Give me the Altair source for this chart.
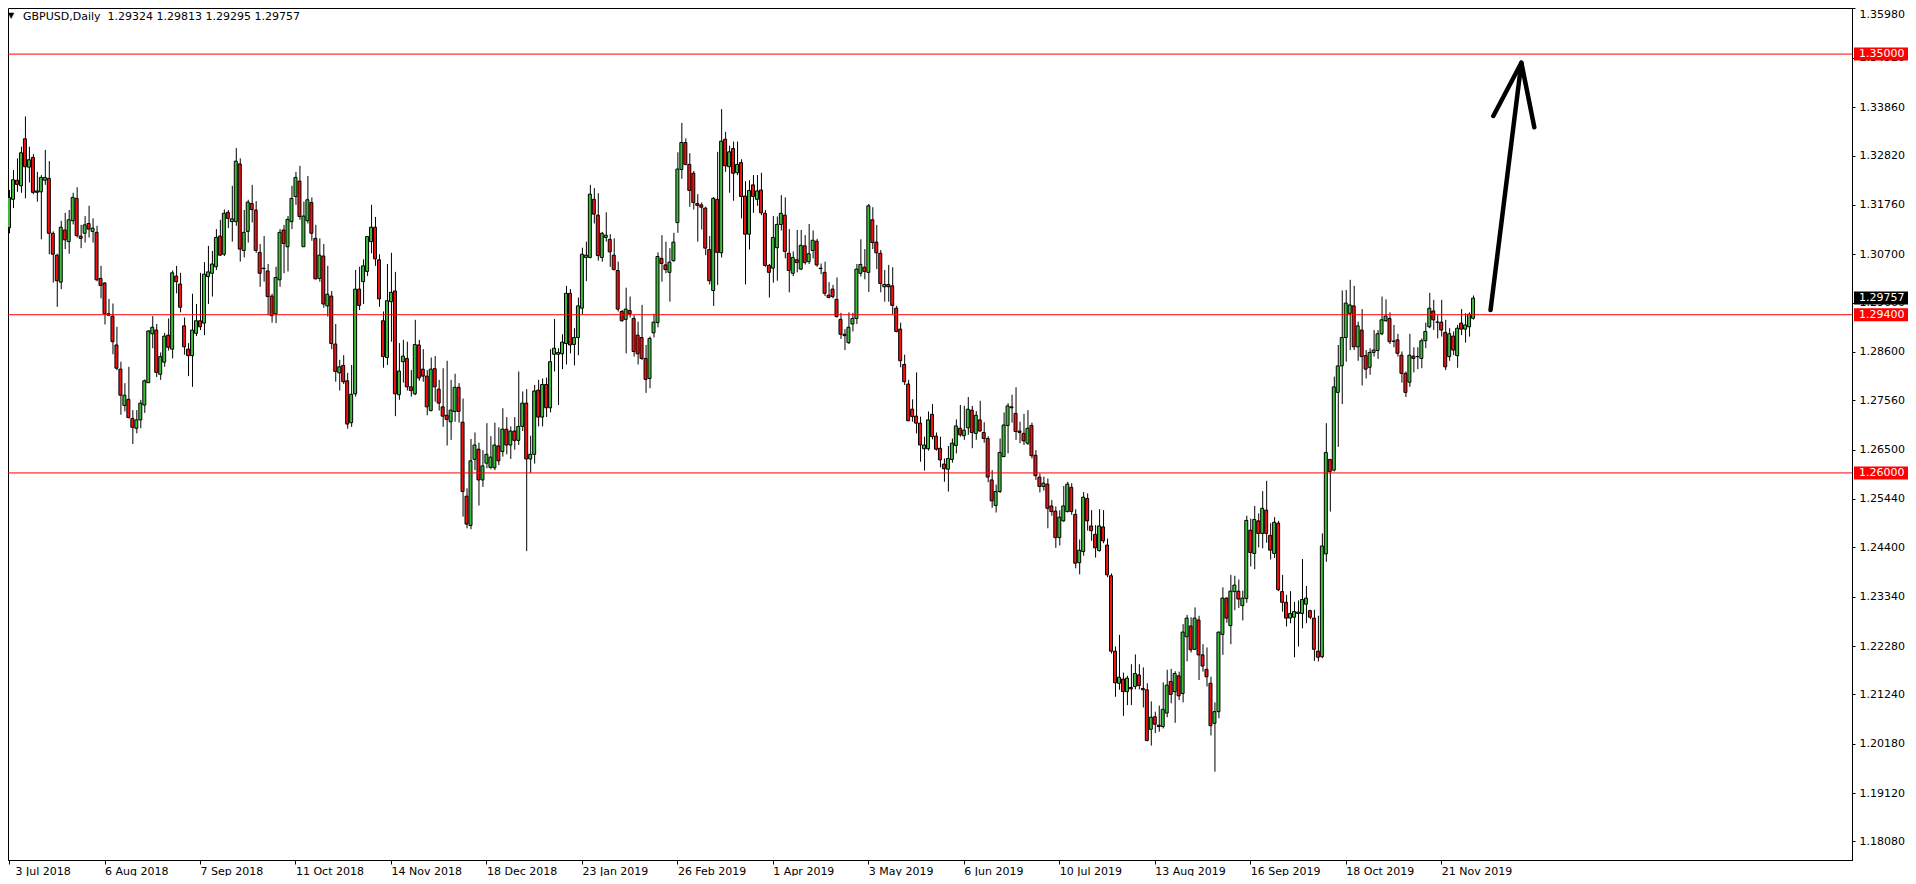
import altair as alt
import pandas as pd

# ---------------- data (GBPUSD daily, bar 0 = 3 Jul 2018) -------------
opens = [
    1.3127, 1.3188, 1.3229, 1.3217, 1.3318, 1.3257, 1.3278, 1.3206, 1.3204, 1.3229,
    1.3233, 1.3115, 1.3068, 1.3010, 1.3122, 1.3097, 1.3142, 1.3190, 1.3109, 1.3115,
    1.3136, 1.3119, 1.3117, 1.3018, 1.3008, 1.2942, 1.2937, 1.2875, 1.2823, 1.2745,
    1.2758, 1.2717, 1.2696, 1.2714, 1.2746, 1.2794, 1.2899, 1.2907, 1.2812, 1.2838,
    1.2896, 1.2866, 1.3023, 1.3006, 1.2916, 1.2866, 1.2852, 1.2900, 1.2927, 1.2922,
    1.3022, 1.3029, 1.3043, 1.3109, 1.3070, 1.3160, 1.3140, 1.3140, 1.3264, 1.3078,
    1.3119, 1.3179, 1.3165, 1.3074, 1.3040, 1.3034, 1.2980, 1.2942, 1.3015, 1.3122,
    1.3086, 1.3140, 1.3194, 1.3227, 1.3086, 1.3142, 1.3181, 1.3104, 1.3018, 1.3066,
    1.2959, 1.2980, 1.2877, 1.2815, 1.2831, 1.2798, 1.2708, 1.2770, 1.2995, 1.3011,
    1.3033, 1.3097, 1.3128, 1.3058, 1.2927, 1.2848, 1.2968, 1.2991, 1.2768, 1.2839,
    1.2846, 1.2785, 1.2770, 1.2875, 1.2823, 1.2808, 1.2734, 1.2824, 1.2780, 1.2742,
    1.2724, 1.2710, 1.2732, 1.2784, 1.2709, 1.2550, 1.2487, 1.2629, 1.2651, 1.2585,
    1.2621, 1.2612, 1.2611, 1.2658, 1.2646, 1.2694, 1.2660, 1.2690, 1.2670, 1.2700,
    1.2750, 1.2630, 1.2640, 1.2778, 1.2720, 1.2790, 1.2740, 1.2855, 1.2855, 1.2856,
    1.2878, 1.2986, 1.2876, 1.2891, 1.2954, 1.3063, 1.3063, 1.3188, 1.3154, 1.3063,
    1.3106, 1.3102, 1.3068, 1.3035, 1.2947, 1.2930, 1.2949, 1.2932, 1.2896, 1.2891,
    1.2846, 1.2803, 1.2901, 1.2923, 1.3061, 1.3047, 1.3031, 1.3056, 1.3138, 1.3252,
    1.3310, 1.3263, 1.3244, 1.3179, 1.3176, 1.3169, 1.3080, 1.2992, 1.3188, 1.3073,
    1.3317, 1.3258, 1.3297, 1.3245, 1.3267, 1.3195, 1.3113, 1.3219, 1.3188, 1.3208,
    1.3158, 1.3046, 1.3040, 1.3084, 1.3134, 1.3154, 1.3072, 1.3029, 1.3058, 1.3038,
    1.3088, 1.3054, 1.3078, 1.3098, 1.3040, 1.3031, 1.2982, 1.2995, 1.2973, 1.2930,
    1.2898, 1.2880, 1.2920, 1.2932, 1.3029, 1.3042, 1.3031, 1.3144, 1.3096, 1.3072,
    1.3000, 1.3005, 1.3002, 1.2954, 1.2909, 1.2833, 1.2791, 1.2737, 1.2722, 1.2707,
    1.2652, 1.2652, 1.2726, 1.2679, 1.2653, 1.2619, 1.2608, 1.2629, 1.2659, 1.2696,
    1.2680, 1.2697, 1.2735, 1.2685, 1.2714, 1.2687, 1.2674, 1.2585, 1.2530, 1.2560,
    1.2635, 1.2702, 1.2742, 1.2728, 1.2690, 1.2685, 1.2664, 1.2702, 1.2638, 1.2591,
    1.2571, 1.2576, 1.2529, 1.2518, 1.2461, 1.2497, 1.2517, 1.2569, 1.2511, 1.2407,
    1.2431, 1.2545, 1.2486, 1.2468, 1.2433, 1.2484, 1.2445, 1.2379, 1.2217, 1.2148,
    1.2157, 1.2130, 1.2139, 1.2141, 1.2166, 1.2137, 1.2134, 1.2049, 1.2076, 1.2058,
    1.2055, 1.2084, 1.2152, 1.2130, 1.2164, 1.2126, 1.2248, 1.2271, 1.2221, 1.2284,
    1.2209, 1.2178, 1.2148, 1.2062, 1.2087, 1.2253, 1.2331, 1.2272, 1.2345, 1.2346,
    1.2315, 1.2330, 1.2477, 1.2427, 1.2497, 1.2470, 1.2520, 1.2466, 1.2427, 1.2492,
    1.2345, 1.2322, 1.2288, 1.2290, 1.2298, 1.2298, 1.2318, 1.2304, 1.2288, 1.2217,
    1.2205, 1.2426, 1.2629, 1.2606, 1.2773, 1.2830, 1.2891, 1.2943, 1.2959, 1.2871,
    1.2907, 1.2852, 1.2827, 1.2859, 1.2863, 1.2899, 1.2927, 1.2932, 1.2883, 1.2886,
    1.2853, 1.2814, 1.2795, 1.2851, 1.2850, 1.2846, 1.2884, 1.2914, 1.2948, 1.2924,
    1.2924, 1.2902, 1.2850, 1.2894, 1.2852, 1.2922, 1.2909, 1.2914, 1.29324,
]
highs = [
    1.3208, 1.3251, 1.3276, 1.3301, 1.3366, 1.3301, 1.3285, 1.3247, 1.3240, 1.3294,
    1.3270, 1.3119, 1.3071, 1.3142, 1.3159, 1.3165, 1.3202, 1.3214, 1.3133, 1.3152,
    1.3174, 1.3147, 1.3131, 1.3045, 1.3010, 1.2974, 1.2964, 1.2914, 1.2839, 1.2793,
    1.2828, 1.2735, 1.2735, 1.2757, 1.2801, 1.2907, 1.2937, 1.2920, 1.2859, 1.2901,
    1.2932, 1.3035, 1.3045, 1.3030, 1.2934, 1.2879, 1.2985, 1.2963, 1.3030, 1.3053,
    1.3088, 1.3077, 1.3124, 1.3144, 1.3166, 1.3165, 1.3217, 1.3298, 1.3276, 1.3165,
    1.3187, 1.3219, 1.3184, 1.3092, 1.3109, 1.3049, 1.2985, 1.3043, 1.3124, 1.3133,
    1.3152, 1.3217, 1.3247, 1.3260, 1.3183, 1.3238, 1.3192, 1.3133, 1.3104, 1.3092,
    1.3045, 1.2991, 1.2920, 1.2843, 1.2853, 1.2815, 1.2832, 1.3036, 1.3043, 1.3059,
    1.3109, 1.3176, 1.3150, 1.3070, 1.2947, 1.3049, 1.3073, 1.3032, 1.2879, 1.2886,
    1.2882, 1.2821, 1.2929, 1.2886, 1.2866, 1.2821, 1.2848, 1.2851, 1.2800, 1.2825,
    1.2841, 1.2800, 1.2813, 1.2793, 1.2760, 1.2567, 1.2673, 1.2687, 1.2665, 1.2649,
    1.2707, 1.2679, 1.2708, 1.2698, 1.2739, 1.2720, 1.2700, 1.2720, 1.2818, 1.2775,
    1.2780, 1.2680, 1.2789, 1.2800, 1.2803, 1.2805, 1.2866, 1.2931, 1.2868, 1.2898,
    1.3002, 1.2995, 1.2911, 1.2977, 1.3084, 1.3097, 1.3219, 1.3212, 1.3201, 1.3118,
    1.3160, 1.3113, 1.3104, 1.3054, 1.2950, 1.2998, 1.2979, 1.2939, 1.2925, 1.2961,
    1.2875, 1.2893, 1.2942, 1.3074, 1.3111, 1.3097, 1.3083, 1.3116, 1.3289, 1.3352,
    1.3319, 1.3287, 1.3249, 1.3199, 1.3181, 1.3172, 1.3109, 1.3193, 1.3290, 1.3382,
    1.3333, 1.3303, 1.3312, 1.3312, 1.3274, 1.3227, 1.3229, 1.3240, 1.3240, 1.3245,
    1.3165, 1.3049, 1.3152, 1.3151, 1.3197, 1.3192, 1.3124, 1.3076, 1.3122, 1.3122,
    1.3111, 1.3135, 1.3121, 1.3103, 1.3050, 1.3054, 1.3010, 1.3004, 1.3020, 1.2944,
    1.2909, 1.2945, 1.2944, 1.3049, 1.3102, 1.3081, 1.3178, 1.3171, 1.3133, 1.3079,
    1.3036, 1.3047, 1.3042, 1.2959, 1.2923, 1.2854, 1.2800, 1.2758, 1.2816, 1.2721,
    1.2678, 1.2732, 1.2748, 1.2687, 1.2678, 1.2631, 1.2658, 1.2674, 1.2715, 1.2746,
    1.2744, 1.2763, 1.2744, 1.2733, 1.2755, 1.2709, 1.2679, 1.2606, 1.2575, 1.2674,
    1.2730, 1.2750, 1.2768, 1.2784, 1.2710, 1.2727, 1.2735, 1.2708, 1.2649, 1.2599,
    1.2592, 1.2588, 1.2542, 1.2528, 1.2520, 1.2572, 1.2581, 1.2578, 1.2522, 1.2457,
    1.2559, 1.2556, 1.2520, 1.2488, 1.2522, 1.2520, 1.2459, 1.2384, 1.2227, 1.2252,
    1.2171, 1.2164, 1.2189, 1.2210, 1.2189, 1.2182, 1.2148, 1.2109, 1.2087, 1.2100,
    1.2150, 1.2177, 1.2179, 1.2174, 1.2173, 1.2275, 1.2295, 1.2290, 1.2311, 1.2293,
    1.2232, 1.2225, 1.2162, 1.2107, 1.2259, 1.2354, 1.2333, 1.2381, 1.2379, 1.2371,
    1.2347, 1.2508, 1.2502, 1.2529, 1.2513, 1.2561, 1.2583, 1.2492, 1.2505, 1.2497,
    1.2381, 1.2338, 1.2346, 1.2323, 1.2326, 1.2415, 1.2357, 1.2306, 1.2306, 1.2293,
    1.2470, 1.2707, 1.2630, 1.2807, 1.2875, 1.2992, 1.2993, 1.3015, 1.3002, 1.2925,
    1.2952, 1.2864, 1.2868, 1.2907, 1.2907, 1.2979, 1.2973, 1.2945, 1.2918, 1.2899,
    1.2861, 1.2818, 1.2899, 1.2870, 1.2870, 1.2889, 1.2923, 1.2987, 1.2972, 1.2939,
    1.2972, 1.2929, 1.2911, 1.2904, 1.2918, 1.2952, 1.2943, 1.2945, 1.29813,
]
lows = [
    1.3115, 1.3169, 1.3204, 1.3202, 1.3190, 1.3224, 1.3199, 1.3183, 1.3102, 1.3219,
    1.3070, 1.3009, 1.2957, 1.2995, 1.3081, 1.3071, 1.3134, 1.3106, 1.3083, 1.3095,
    1.3106, 1.3095, 1.3012, 1.2975, 1.2919, 1.2937, 1.2855, 1.2821, 1.2725, 1.2732,
    1.2717, 1.2662, 1.2685, 1.2696, 1.2729, 1.2793, 1.2868, 1.2806, 1.2800, 1.2828,
    1.2863, 1.2846, 1.2986, 1.2945, 1.2854, 1.2808, 1.2785, 1.2894, 1.2907, 1.2896,
    1.2963, 1.2979, 1.3036, 1.3066, 1.3066, 1.3126, 1.3097, 1.3131, 1.3054, 1.3063,
    1.3095, 1.3138, 1.3073, 1.3000, 1.3011, 1.2939, 1.2923, 1.2922, 1.3000, 1.3029,
    1.3033, 1.3124, 1.3176, 1.3144, 1.3086, 1.3136, 1.3099, 1.3016, 1.3011, 1.2955,
    1.2936, 1.2866, 1.2796, 1.2777, 1.2791, 1.2695, 1.2699, 1.2764, 1.2950, 1.2963,
    1.3023, 1.3072, 1.3045, 1.2957, 1.2826, 1.2832, 1.2882, 1.2722, 1.2757, 1.2794,
    1.2777, 1.2764, 1.2767, 1.2798, 1.2796, 1.2724, 1.2732, 1.2753, 1.2734, 1.2699,
    1.2659, 1.2671, 1.2710, 1.2708, 1.2506, 1.2481, 1.2479, 1.2606, 1.2530, 1.2570,
    1.2610, 1.2608, 1.2606, 1.2617, 1.2635, 1.2640, 1.2630, 1.2650, 1.2660, 1.2690,
    1.2432, 1.2600, 1.2620, 1.2700, 1.2700, 1.2720, 1.2730, 1.2818, 1.2746, 1.2823,
    1.2833, 1.2857, 1.2831, 1.2853, 1.2941, 1.3012, 1.3061, 1.3136, 1.3056, 1.3054,
    1.3097, 1.3043, 1.3035, 1.2947, 1.2925, 1.2857, 1.2934, 1.2850, 1.2833, 1.2843,
    1.2772, 1.2782, 1.2891, 1.2913, 1.3011, 1.3029, 1.2968, 1.3054, 1.3116, 1.3232,
    1.3261, 1.3172, 1.3166, 1.3097, 1.3123, 1.3068, 1.3005, 1.2959, 1.3004, 1.3063,
    1.3247, 1.3202, 1.3185, 1.3240, 1.3147, 1.3005, 1.3080, 1.3159, 1.3174, 1.3154,
    1.3043, 1.2977, 1.3009, 1.3013, 1.3121, 1.3061, 1.2988, 1.3023, 1.3031, 1.3036,
    1.3048, 1.3049, 1.3061, 1.3043, 1.3027, 1.2980, 1.2975, 1.2975, 1.2934, 1.2888,
    1.2864, 1.2877, 1.2904, 1.2920, 1.3022, 1.3016, 1.2989, 1.3081, 1.3038, 1.2988,
    1.2968, 1.2968, 1.2941, 1.2902, 1.2827, 1.2789, 1.2712, 1.2710, 1.2685, 1.2624,
    1.2605, 1.2648, 1.2672, 1.2648, 1.2612, 1.2581, 1.2560, 1.2622, 1.2642, 1.2678,
    1.2671, 1.2682, 1.2653, 1.2671, 1.2689, 1.2665, 1.2580, 1.2525, 1.2515, 1.2557,
    1.2634, 1.2642, 1.2708, 1.2671, 1.2664, 1.2660, 1.2660, 1.2631, 1.2585, 1.2558,
    1.2562, 1.2481, 1.2508, 1.2439, 1.2444, 1.2495, 1.2515, 1.2510, 1.2395, 1.2382,
    1.2422, 1.2476, 1.2454, 1.2418, 1.2431, 1.2449, 1.2376, 1.2212, 1.2119, 1.2134,
    1.2078, 1.2101, 1.2101, 1.2135, 1.2135, 1.2096, 1.2023, 1.2014, 1.2041, 1.2044,
    1.2051, 1.2075, 1.2105, 1.2063, 1.2112, 1.2107, 1.2195, 1.2214, 1.2220, 1.2155,
    1.2173, 1.2141, 1.2036, 1.1958, 1.2073, 1.2209, 1.2278, 1.2232, 1.2305, 1.2310,
    1.2283, 1.2321, 1.2399, 1.2393, 1.2440, 1.2438, 1.2450, 1.2414, 1.2417, 1.2346,
    1.2302, 1.2270, 1.2277, 1.2204, 1.2227, 1.2266, 1.2277, 1.2286, 1.2196, 1.2195,
    1.2202, 1.2409, 1.2517, 1.2603, 1.2656, 1.2748, 1.2839, 1.2864, 1.2864, 1.2841,
    1.2788, 1.2803, 1.2811, 1.2850, 1.2845, 1.2896, 1.2925, 1.2877, 1.2870, 1.2850,
    1.2794, 1.2763, 1.2785, 1.2816, 1.2823, 1.2825, 1.2868, 1.2911, 1.2907, 1.2889,
    1.2893, 1.2821, 1.2841, 1.2853, 1.2826, 1.2896, 1.2880, 1.2893, 1.29295,
]
closes = [
    1.3192, 1.3230, 1.3220, 1.3288, 1.3258, 1.3273, 1.3203, 1.3203, 1.3235, 1.3235,
    1.3115, 1.3070, 1.3013, 1.3128, 1.3101, 1.3144, 1.3192, 1.3110, 1.3104, 1.3133,
    1.3124, 1.3126, 1.3015, 1.3003, 1.2942, 1.2939, 1.2882, 1.2825, 1.2767, 1.2767,
    1.2719, 1.2698, 1.2714, 1.2750, 1.2798, 1.2905, 1.2913, 1.2816, 1.2850, 1.2894,
    1.2870, 1.3030, 1.3011, 1.2956, 1.2871, 1.2852, 1.2907, 1.2927, 1.2914, 1.3027,
    1.3032, 1.3049, 1.3106, 1.3068, 1.3158, 1.3147, 1.3146, 1.3270, 1.3081, 1.3117,
    1.3182, 1.3166, 1.3078, 1.3029, 1.3039, 1.2979, 1.2938, 1.3020, 1.3117, 1.3093,
    1.3145, 1.3190, 1.3235, 1.3151, 1.3152, 1.3187, 1.3115, 1.3017, 1.3068, 1.2963,
    1.2984, 1.2878, 1.2818, 1.2828, 1.2796, 1.2705, 1.2769, 1.2995, 1.2960, 1.3045,
    1.3108, 1.3128, 1.3060, 1.2974, 1.2850, 1.2970, 1.2988, 1.2770, 1.2819, 1.2851,
    1.2785, 1.2777, 1.2876, 1.2804, 1.2808, 1.2742, 1.2823, 1.2785, 1.2750, 1.2722,
    1.2715, 1.2735, 1.2784, 1.2732, 1.2560, 1.2490, 1.2626, 1.2660, 1.2585, 1.2615,
    1.2640, 1.2634, 1.2660, 1.2626, 1.2694, 1.2660, 1.2690, 1.2670, 1.2700, 1.2750,
    1.2630, 1.2640, 1.2776, 1.2720, 1.2790, 1.2740, 1.2839, 1.2868, 1.2859, 1.2881,
    1.2986, 1.2875, 1.2891, 1.2959, 1.3070, 1.3068, 1.3199, 1.3156, 1.3067, 1.3115,
    1.3111, 1.3075, 1.3037, 1.2952, 1.2927, 1.2952, 1.2942, 1.2861, 1.2856, 1.2846,
    1.2801, 1.2889, 1.2924, 1.3065, 1.3050, 1.3037, 1.3053, 1.3096, 1.3253, 1.3310,
    1.3263, 1.3207, 1.3181, 1.3175, 1.3171, 1.3083, 1.3013, 1.3190, 1.3074, 1.3313,
    1.3260, 1.3290, 1.3244, 1.3263, 1.3194, 1.3113, 1.3207, 1.3194, 1.3206, 1.3159,
    1.3046, 1.3031, 1.3106, 1.3134, 1.3158, 1.3076, 1.3035, 1.3063, 1.3052, 1.3089,
    1.3052, 1.3071, 1.3100, 1.3047, 1.3039, 1.2986, 1.2977, 1.2979, 1.2936, 1.2898,
    1.2895, 1.2913, 1.2932, 1.3038, 1.3048, 1.3033, 1.3174, 1.3095, 1.3073, 1.3007,
    1.3005, 1.3000, 1.2960, 1.2904, 1.2841, 1.2796, 1.2712, 1.2721, 1.2707, 1.2660,
    1.2660, 1.2714, 1.2678, 1.2651, 1.2628, 1.2609, 1.2631, 1.2664, 1.2701, 1.2682,
    1.2692, 1.2737, 1.2687, 1.2724, 1.2690, 1.2674, 1.2591, 1.2540, 1.2560, 1.2644,
    1.2703, 1.2744, 1.2740, 1.2689, 1.2687, 1.2669, 1.2696, 1.2637, 1.2594, 1.2571,
    1.2578, 1.2524, 1.2517, 1.2461, 1.2505, 1.2529, 1.2576, 1.2517, 1.2406, 1.2434,
    1.2548, 1.2497, 1.2476, 1.2439, 1.2486, 1.2454, 1.2381, 1.2217, 1.2149, 1.2161,
    1.2130, 1.2159, 1.2136, 1.2169, 1.2143, 1.2134, 1.2025, 1.2075, 1.2060, 1.2055,
    1.2092, 1.2144, 1.2124, 1.2169, 1.2121, 1.2258, 1.2288, 1.2220, 1.2288, 1.2209,
    1.2185, 1.2162, 1.2057, 1.2087, 1.2258, 1.2331, 1.2288, 1.2346, 1.2359, 1.2329,
    1.2331, 1.2498, 1.2429, 1.2500, 1.2470, 1.2524, 1.2470, 1.2434, 1.2494, 1.2349,
    1.2322, 1.2288, 1.2298, 1.2302, 1.2301, 1.2328, 1.2331, 1.2290, 1.2221, 1.2204,
    1.2443, 1.2644, 1.2603, 1.2785, 1.2830, 1.2891, 1.2965, 1.2961, 1.2871, 1.2916,
    1.2850, 1.2823, 1.2859, 1.2864, 1.2899, 1.2929, 1.2937, 1.2882, 1.2883, 1.2857,
    1.2814, 1.2773, 1.2853, 1.2846, 1.2850, 1.2884, 1.2904, 1.2954, 1.2929, 1.2924,
    1.2907, 1.2828, 1.2899, 1.2864, 1.2911, 1.2909, 1.2918, 1.2941, 1.29757,
]

date_labels = ["3 Jul 2018", "6 Aug 2018", "7 Sep 2018", "11 Oct 2018", "14 Nov 2018",
               "18 Dec 2018", "23 Jan 2019", "26 Feb 2019", "1 Apr 2019", "3 May 2019",
               "6 Jun 2019", "10 Jul 2019", "13 Aug 2019", "16 Sep 2019", "18 Oct 2019",
               "21 Nov 2019"]
label_bars = [0, 24, 48, 72, 96, 120, 144, 168, 192, 216, 240, 264, 288, 312, 336, 360]

price_ticks = [1.35980, 1.34920, 1.33860, 1.32820, 1.31760, 1.30700, 1.29660, 1.28600,
               1.27560, 1.26500, 1.25440, 1.24400, 1.23340, 1.22280, 1.21240, 1.20180,
               1.19120, 1.18080]

level_prices = [1.35, 1.294, 1.26]
level_labels = ["1.35000", "1.29400", "1.26000"]
last_price = 1.29757
last_label = "1.29757"

arrow_bar = [372.4, 380.15, 373.1, 380.15, 383.4]
arrow_price = [1.2950, 1.34815, 1.3367, 1.34815, 1.33427]
arrow_part = ["shaft", "shaft", "head", "head", "head"]
arrow_order = [0, 1, 0, 1, 2]

header_text = "GBPUSD,Daily\u00a0 1.29324 1.29813 1.29295 1.29757"

# ---------------- styling ----------------
GREEN = "#3CBE3C"
RED = "#F21010"
LINE_RED = "#FF0000"
FONT = "DejaVu Sans"

N = len(opens)
df = pd.DataFrame({"bar": list(range(N)), "open": opens, "high": highs,
                   "low": lows, "close": closes})
df["dir"] = ["up" if c >= o else "down" for o, c in zip(opens, closes)]

levels_df = pd.DataFrame({"price": level_prices})
tags_df = pd.DataFrame({
    "price": level_prices + [last_price],
    "lab": level_labels + [last_label],
    "bg": [LINE_RED, LINE_RED, LINE_RED, "#000000"],
    "fg": ["#FFFFFF"] * 4,
})
arrow_df = pd.DataFrame({"bar": arrow_bar, "price": arrow_price,
                         "part": arrow_part, "ord": arrow_order})
header_df = pd.DataFrame({"t": [header_text]})
tri_df = pd.DataFrame({"t": ["\u25bc"]})

# bar centres fall on whole pixels; bodies are 4 px wide incl. outline
xs = alt.Scale(domain=[1.0, 462.0], nice=False, zero=False)
ys = alt.Scale(domain=[1.176823, 1.359907], nice=False, zero=False)

label_js = "[" + ",".join("'" + d + "'" for d in date_labels) + "]"
xaxis = alt.Axis(values=label_bars, labelExpr=label_js + "[round(datum.value/24)]",
                 title=None, grid=False, orient="bottom", tickSize=4, labelPadding=1,
                 labelAlign="left", labelFlush=False, labelOverlap=False,
                 labelOffset={"condition": {"test": "datum.value < 1", "value": 6}, "value": 0})
yaxis = alt.Axis(values=price_ticks, format=".5f", orient="right", title=None, grid=False,
                 tickSize=3, labelPadding=4, labelFlush=2, labelOverlap=False,
                 labelAlign="left")

X = lambda f: alt.X(f, scale=xs, axis=xaxis)
Y = lambda f: alt.Y(f, scale=ys, axis=yaxis)

wicks = alt.Chart(df).mark_rule(color="black", strokeWidth=1, xOffset=0.5).encode(
    x=X("bar:Q"), y=Y("low:Q"), y2="high:Q")

bodies = alt.Chart(df).mark_bar(size=3, stroke="black", strokeWidth=1).encode(
    x=X("bar:Q"), y=Y("open:Q"), y2="close:Q",
    fill=alt.Fill("dir:N", scale=alt.Scale(domain=["up", "down"], range=[GREEN, RED]),
                  legend=None))

lines = alt.Chart(levels_df).mark_rule(color=LINE_RED, strokeWidth=1).encode(
    y=Y("price:Q"))

tags = alt.Chart(tags_df).mark_rule(strokeWidth=13, strokeCap="butt").encode(
    x=alt.value(1846), x2=alt.value(1900), y=Y("price:Q"),
    color=alt.Color("bg:N", scale=None))

tag_text = alt.Chart(tags_df).mark_text(align="left", baseline="middle", font=FONT,
                                        fontSize=11).encode(
    x=alt.value(1851), y=Y("price:Q"), text="lab:N",
    color=alt.Color("fg:N", scale=None))

arrow = alt.Chart(arrow_df).mark_line(color="black", strokeWidth=4.5, strokeCap="round",
                                      strokeJoin="round").encode(
    x=X("bar:Q"), y=Y("price:Q"), detail="part:N", order="ord:Q")

header = alt.Chart(header_df).mark_text(align="left", baseline="alphabetic", font=FONT,
                                        fontSize=11, color="black").encode(
    x=alt.value(15), y=alt.value(12), text="t:N")

tri = alt.Chart(tri_df).mark_text(align="left", baseline="alphabetic", font=FONT,
                                  fontSize=8, color="black").encode(
    x=alt.value(0), y=alt.value(10), text="t:N")

chart = alt.layer(wicks, bodies, lines, tags, tag_text, arrow, header, tri).properties(
    width=1844, height=852,
    autosize=alt.AutoSizeParams(type="none"),
    padding={"left": 0, "top": 0, "right": 56, "bottom": 16},
    background="white",
).configure_view(stroke="black", strokeWidth=1).configure_axis(
    labelFont=FONT, labelFontSize=11, labelColor="black", tickColor="black",
    domainColor="black", domainWidth=1, tickWidth=1)

chart.save("out.html", embed_options={"renderer": "svg", "actions": False})
